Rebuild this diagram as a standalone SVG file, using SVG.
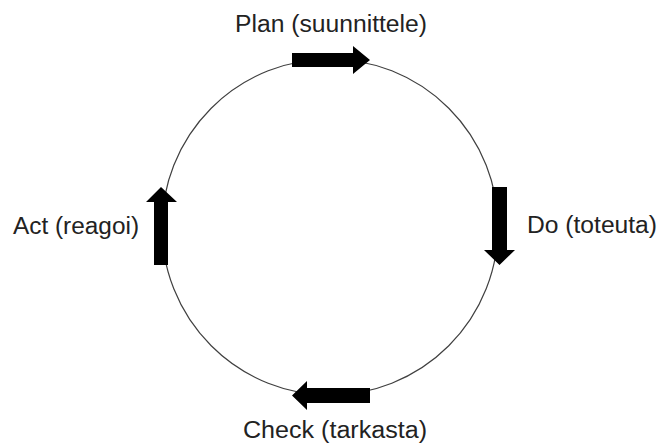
<svg xmlns="http://www.w3.org/2000/svg" width="659" height="443" viewBox="0 0 659 443">
  <style>
    .cycle { fill: none; stroke: #404040; stroke-width: 1.2; }
    .arrow { fill: #000; }
    .label { font-family: "Liberation Sans", Arial, sans-serif; font-size: 23px; fill: #222; }
  </style>
  <rect width="659" height="443" fill="#fff"/>
  <g id="connectors">
    <circle class="cycle" cx="330" cy="227" r="168"/>
  </g>
  <g id="plan">
    <polygon class="arrow" points="292,53 353,53 353,46 370,60 353,74 353,67 292,67"/>
    <text class="label" x="235" y="32" textLength="192" lengthAdjust="spacingAndGlyphs">Plan (suunnittele)</text>
  </g>
  <g id="do">
    <polygon class="arrow" points="492,187 507,187 507,250 515,250 499.5,265 484,250 492,250"/>
    <text class="label" x="527" y="233" textLength="130" lengthAdjust="spacingAndGlyphs">Do (toteuta)</text>
  </g>
  <g id="check">
    <polygon class="arrow" points="370,388 370,403 307,403 307,410 292,395.5 307,381 307,388"/>
    <text class="label" x="243" y="438" textLength="184" lengthAdjust="spacingAndGlyphs">Check (tarkasta)</text>
  </g>
  <g id="act">
    <polygon class="arrow" points="154,265 168,265 168,202 177,202 161,187 146,202 154,202"/>
    <text class="label" x="13" y="234" textLength="126" lengthAdjust="spacingAndGlyphs">Act (reagoi)</text>
  </g>
</svg>
